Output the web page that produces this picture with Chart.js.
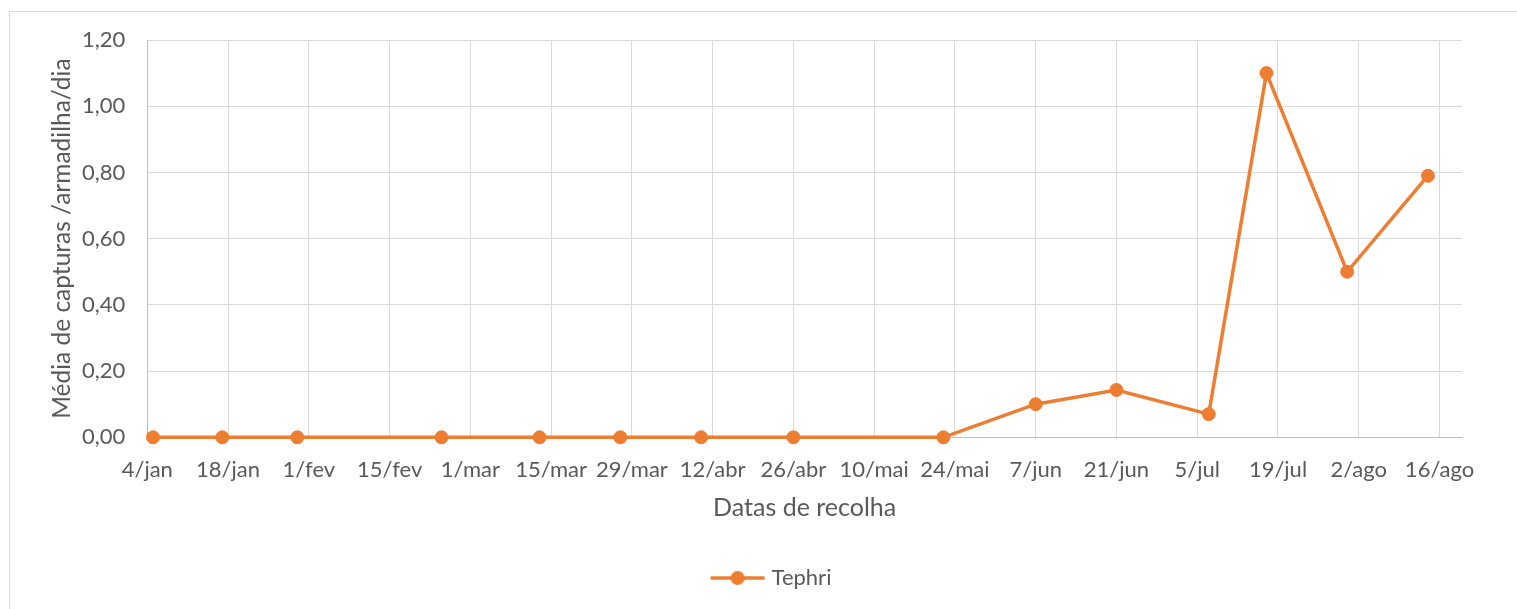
<!DOCTYPE html>
<html>
<head>
<meta charset="utf-8">
<script src="https://cdn.jsdelivr.net/npm/chart.js@4.4.1/dist/chart.umd.min.js"></script>
<style>
    html, body { margin: 0; padding: 0; background: #fff; overflow: hidden; }
    #frame { position: absolute; left: 9px; top: 11px; width: 1600px; height: 700px; border: 1px solid #D9D9D9; }
    #chart { position: absolute; left: 0; top: 0; }
</style>
</head>
<body>
<div id="frame"></div>
<canvas id="chart" width="1517" height="609"></canvas>
<script>
// collection dates as day of the year (5/jan = 5 ... 14/ago = 226)
const collectDays = [5, 17, 30, 55, 72, 86, 100, 116, 142, 158, 172, 188, 198, 212, 226];
const tephri = [0, 0, 0, 0, 0, 0, 0, 0, 0, 0.10, 0.143, 0.07, 1.10, 0.50, 0.79];

// x axis ticks (every 14 days from 4/jan)
const tickDays = [4, 18, 32, 46, 60, 74, 88, 102, 116, 130, 144, 158, 172, 186, 200, 214, 228];
const tickLabels = ['4/jan', '18/jan', '1/fev', '15/fev', '1/mar', '15/mar', '29/mar', '12/abr',
    '26/abr', '10/mai', '24/mai', '7/jun', '21/jun', '5/jul', '19/jul', '2/ago', '16/ago'];

const orange = '#ED7D31';
const textGrey = '#595959';
const FONT = 'Lato, "Noto Sans", sans-serif';

// legend marker: line with a dot
function legendMarker() {
    const c = document.createElement('canvas');
    c.width = 56;
    c.height = 16;
    const g = c.getContext('2d');
    g.strokeStyle = orange;
    g.lineWidth = 3.5;
    g.beginPath();
    g.moveTo(1, 8);
    g.lineTo(55, 8);
    g.stroke();
    g.fillStyle = orange;
    g.beginPath();
    g.arc(28, 8, 7, 0, Math.PI * 2);
    g.fill();
    return c;
}
const marker = legendMarker();

// Excel centres the legend under the whole chart, not under the plot
const legendShift = {
    id: 'legendShift',
    afterLayout(chart) {
        chart.legend.left += 42;
        chart.legend.right += 42;
    }
};

const ctx = document.getElementById('chart').getContext('2d');
const chart = new Chart(ctx, {
    type: 'line',
    data: {
        datasets: [{
            label: 'Tephri',
            data: collectDays.map((d, i) => ({ x: d, y: tephri[i] })),
            borderColor: orange,
            backgroundColor: orange,
            borderWidth: 3.5,
            pointRadius: 6.5,
            pointBorderWidth: 1,
            pointBorderColor: orange,
            pointBackgroundColor: orange,
            tension: 0,
            clip: false
        }]
    },
    plugins: [legendShift],
    options: {
        responsive: false,
        animation: false,
        devicePixelRatio: 1,
        layout: {
            padding: { left: 0, right: 55, top: 40, bottom: 10 }
        },
        plugins: {
            legend: {
                position: 'bottom',
                labels: {
                    usePointStyle: true,
                    pointStyleWidth: 46,
                    padding: 10,
                    color: textGrey,
                    font: { family: FONT, size: 22 },
                    generateLabels: (c) => [{
                        text: 'Tephri',
                        pointStyle: marker,
                        fillStyle: orange,
                        strokeStyle: orange,
                        fontColor: textGrey,
                        lineWidth: 0,
                        datasetIndex: 0
                    }]
                }
            },
            tooltip: { enabled: false }
        },
        scales: {
            x: {
                type: 'linear',
                min: 4,
                max: 231.9,
                afterBuildTicks: (scale) => {
                    scale.ticks = tickDays.map(v => ({ value: v }));
                },
                afterFit: (scale) => { scale.height = 119.7; },
                ticks: {
                    autoSkip: false,
                    maxRotation: 0,
                    padding: 19,
                    color: textGrey,
                    font: { family: FONT, size: 22 },
                    callback: (v) => tickLabels[tickDays.indexOf(v)]
                },
                grid: { color: '#D9D9D9', lineWidth: 1, drawTicks: false },
                border: { color: '#BFBFBF', width: 1 },
                title: {
                    display: true,
                    text: 'Datas de recolha',
                    color: textGrey,
                    font: { family: FONT, size: 25 },
                    padding: { top: 0, bottom: 34 }
                }
            },
            y: {
                min: 0,
                max: 1.2,
                afterFit: (scale) => { scale.width = 147.3; },
                ticks: {
                    stepSize: 0.2,
                    padding: 22,
                    color: textGrey,
                    font: { family: FONT, size: 22 },
                    callback: (v) => v.toFixed(2).replace('.', ',')
                },
                grid: { color: '#D9D9D9', lineWidth: 1, drawTicks: false },
                border: { color: '#BFBFBF', width: 1 },
                title: {
                    display: true,
                    text: 'Média de capturas /armadilha/dia',
                    color: textGrey,
                    font: { family: FONT, size: 24.5 },
                    padding: { top: 47, bottom: 0 }
                }
            }
        }
    }
});
</script>
</body>
</html>
